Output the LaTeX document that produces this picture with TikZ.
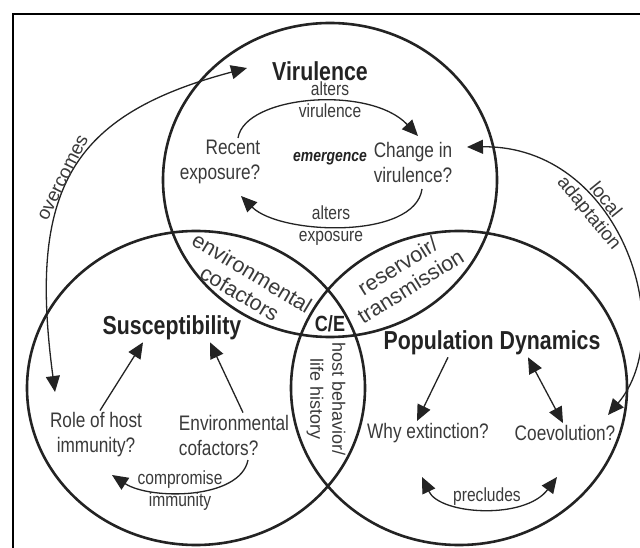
\documentclass[tikz,border=0pt]{standalone}
\usepackage{xcolor}
\usepackage{fontspec}
\setmainfont{Liberation Sans}[FakeStretch=0.82]
\newfontfamily\lensfont{Liberation Sans}
\usepackage{tikz}
\usetikzlibrary{arrows.meta}

\definecolor{ink}{HTML}{232323}
\definecolor{txtgray}{HTML}{3a3a3a}

\begin{document}
\begin{tikzpicture}[x=1pt,y=-1pt]
\tikzstyle{ring}=[draw=ink, line width=2.6pt]
\tikzstyle{frame}=[draw=black, line width=2.6pt]
\tikzstyle{head}=[text=ink, inner sep=2pt, font=\fontsize{26}{30}\selectfont\bfseries]
\tikzstyle{txt}=[text=txtgray, inner sep=2pt, align=center, font=\fontsize{21}{25}\selectfont]
\tikzstyle{small}=[text=txtgray, inner sep=1pt, align=center, font=\fontsize{19}{22}\selectfont]
\tikzstyle{bent}=[text=txtgray, inner sep=1pt, align=center, font=\lensfont\fontsize{19}{21}\selectfont]
\tikzstyle{emph}=[text=ink, inner sep=1pt, font=\fontsize{17}{20}\selectfont\bfseries\itshape]
\tikzstyle{lens}=[text=txtgray, inner sep=1pt, align=center, font=\lensfont\fontsize{21.5}{24}\selectfont]
\tikzstyle{ce}=[text=ink, inner sep=1pt, font=\fontsize{22}{24}\selectfont\bfseries]
\tikzstyle{link}=[draw=ink, line width=1.3pt, -{Triangle[length=16pt,width=14pt]}]
\tikzstyle{twolink}=[draw=ink, line width=1.3pt, {Triangle[length=16pt,width=14pt]}-{Triangle[length=16pt,width=14pt]}]

\useasboundingbox (0,0) rectangle (640,548);
\fill[white] (0,0) rectangle (640,548);
\draw[frame] (13,548) -- (13,14) -- (640,14);

% the three sets
\draw[ring] (330,180) ellipse [x radius=167, y radius=157];
\draw[ring] (196,388) ellipse [x radius=169, y radius=157];
\draw[ring] (459,388) ellipse [x radius=168, y radius=157];

% Virulence
\node[head] (vir) at (320,71) {Virulence};
\node[small] (altv) at (330,100) {alters\\virulence};
\node[txt, align=right] (recent) at (220,162) {Recent\\exposure?};
\node[emph] (emerg) at (330,159) {emergence};
\node[txt] (change) at (413,162) {Change in\\virulence?};
\node[small] (alte) at (331,226) {alters\\exposure};

\coordinate (rec-up) at (238,138);
\coordinate (chg-up) at (418,136);
\coordinate (chg-low) at (422,189);
\coordinate (rec-low) at (241,196);
\draw[link] (rec-up) .. controls (245,95) and (370,85) .. (chg-up);
\draw[link] (chg-low) .. controls (415,240) and (280,235) .. (rec-low);

% Susceptibility
\node[head] (susc) at (172,328) {Susceptibility};
\node[txt] (role) at (96,435) {Role of host\\immunity?};
\node[txt, align=left] (envc) at (234,435) {Environmental\\cofactors?};
\node[small] (comp) at (180,491) {compromise\\immunity};

\draw[link] ([xshift=4pt]role.north) -- ([xshift=-29pt]susc.south);
\draw[link] ([xshift=9pt]envc.north) -- ([xshift=38pt]susc.south);
\coordinate (env-low) at (248,460);
\coordinate (role-low) at (112,475);
\draw[link] (env-low) .. controls (240,500) and (150,500) .. (role-low);

% Population Dynamics
\node[head] (popd) at (492,343) {Population Dynamics};
\node[txt] (whyx) at (428,433) {Why extinction?};
\node[txt] (coev) at (565,433) {Coevolution?};
\node[small] (precl) at (487,497) {precludes};

\draw[link] ([xshift=-44pt]popd.south) -- ([xshift=-11pt]whyx.north);
\draw[twolink] ([xshift=36pt]popd.south) -- ([xshift=-2pt]coev.north);
\coordinate (why-low) at (422,477);
\coordinate (coev-low) at (557,477);
\draw[twolink] (why-low) .. controls (440,515) and (525,520) .. (coev-low);

% overlaps
\node[lens, rotate=-31] (envlens) at (246,283) {environmental\\cofactors};
\node[lens, rotate=32] (reslens) at (404,276) {reservoir/\\transmission};
\node[lens, rotate=-90, font=\lensfont\fontsize{18}{22}\selectfont] (hostlens) at (326,399) {host behavior/\\life history};
\node[ce] (ce) at (330,324) {C/E};

% links across the sets
\coordinate (ovr-low) at (55,392);
\coordinate (ovr-up) at (247,68);
\draw[twolink] (ovr-low) .. controls (28,190) and (70,115) .. (ovr-up)
  node[bent, sloped, above, pos=0.47] {overcomes};
\coordinate (loc-up) at (467,147);
\coordinate (loc-low) at (608,415);
\draw[twolink] (loc-up) .. controls (620,145) and (680,330) .. (loc-low)
  node[bent, sloped, pos=0.37] {local\\adaptation};
\end{tikzpicture}
\end{document}
